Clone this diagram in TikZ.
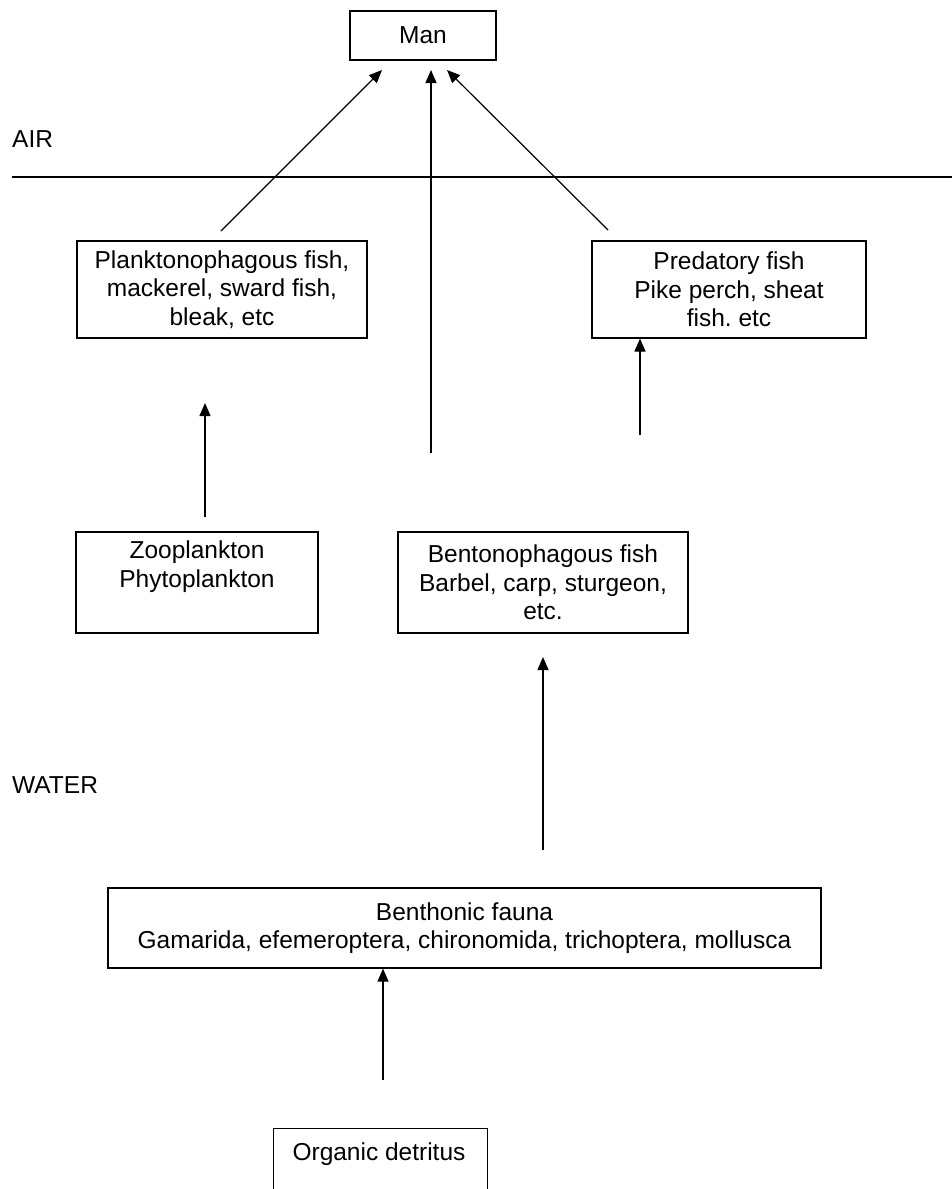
\documentclass[tikz,border=0pt]{standalone}
\usepackage{fontspec}
\setmainfont{Liberation Sans}
\usetikzlibrary{arrows.meta,calc}
\begin{document}
\begin{tikzpicture}[x=1pt,y=-1pt,
  txt/.style={font=\fontsize{24.5}{28.5}\selectfont},
  box/.style={draw, line width=1.2pt, align=center, inner sep=0pt, txt},
  lbl/.style={inner sep=0pt, align=center, txt},
  arr/.style={line width=1.2pt, -{Triangle[length=13pt,width=11pt]}},
  ln/.style={line width=1.2pt}]
\useasboundingbox (0,0) rectangle (952,1189);
\clip (0,0) rectangle (952,1189);

% boxes
\node[box, minimum width=146pt, minimum height=49pt] (man) at (423,35.5) {Man};
\node[box, minimum width=290pt, minimum height=97pt] (plank) at (222,289.5)
  {Planktonophagous fish,\\mackerel, sward fish,\\bleak, etc};
\node[box, minimum width=274pt, minimum height=97pt] (pred) at (729,289.5)
  {Predatory fish\\Pike perch, sheat\\fish.\ etc};
\node[box, minimum width=242pt, minimum height=101pt] (zoo) at (197,582.5) {};
\node[lbl, anchor=north] (zootxt) at (197,541) {Zooplankton\\Phytoplankton};
\node[box, minimum width=290pt, minimum height=101pt] (bento) at (543,582.5)
  {Bentonophagous fish\\Barbel, carp, sturgeon,\\etc.};
\node[box, minimum width=713pt, minimum height=80pt] (benth) at (464.5,928)
  {Benthonic fauna\\Gamarida, efemeroptera, chironomida, trichoptera, mollusca};
\node[box, minimum width=214pt, minimum height=100pt, anchor=north west] (detr) at (273,1128) {};
\node[lbl, anchor=base] (detrtxt) at (379,1160) {Organic detritus};

% labels
\node[lbl, anchor=base west] (air) at (12,147) {AIR};
\node[lbl, anchor=base west] (water) at (12,793) {WATER};

% air/water boundary
\coordinate (lineL) at (12,177);
\coordinate (lineR) at (952,177);
\draw[ln] (lineL) -- (lineR);

% connector end points
\coordinate (s1) at (221,231);  \coordinate (e1) at (382,70);
\coordinate (s2) at (431,453);  \coordinate (e2) at (431,70);
\coordinate (s3) at (608,230);  \coordinate (e3) at (447,70);
\coordinate (s4) at (640,435);
\coordinate (s5) at (205,517);  \coordinate (e5) at (205,403);
\coordinate (s6) at (543,850);  \coordinate (e6) at (543,657);
\coordinate (s7) at (383,1080);

\draw[arr] (s1) -- (e1);
\draw[arr] (s2) -- (e2);
\draw[arr] (s3) -- (e3);
\draw[arr] (s4) -- (s4 |- pred.south);
\draw[arr] (s5) -- (e5);
\draw[arr] (s6) -- (e6);
\draw[arr] (s7) -- (s7 |- benth.south);
\end{tikzpicture}
\end{document}
